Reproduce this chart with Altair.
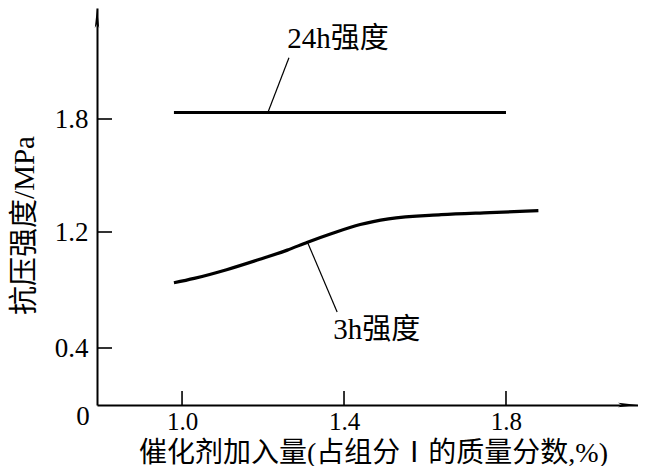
import altair as alt
import pandas as pd

# ---- data ----
x_3h = [0.98, 1.03, 1.11, 1.19, 1.26, 1.31, 1.37, 1.44, 1.51, 1.64, 1.76, 1.88]
y_3h = [0.85, 0.88, 0.94, 1.01, 1.075, 1.13, 1.19, 1.24, 1.27, 1.292, 1.303, 1.313]
x_24h = [0.98, 1.80]
y_24h = [1.835, 1.835]

x_ticks = [1.0, 1.4, 1.8]
y_ticks = [0.4, 1.2, 1.8]
x_title = "催化剂加入量(占组分Ⅰ的质量分数,%)"
y_title = "抗压强度/MPa"

label_text = ["24h强度", "3h强度"]
label_x = [1.385, 1.481]
label_y = [2.227, 0.524]
leader_id = ["24h", "24h", "3h", "3h"]
leader_x = [1.212, 1.264, 1.309, 1.383]
leader_y = [1.835, 2.126, 1.135, 0.648]

X_DOMAIN = [0.79, 2.126]
Y_DOMAIN = [0, 0.4, 1.2, 1.8, 2.39]
Y_RANGE = [397, 340, 224, 111, 0]

SERIF = "Liberation Serif, Noto Sans CJK SC"

xs = alt.Scale(domain=X_DOMAIN, nice=False, zero=False)
ys = alt.Scale(domain=Y_DOMAIN, range=Y_RANGE, nice=False, zero=False)

df3 = pd.DataFrame({"x": x_3h, "y": y_3h})
df24 = pd.DataFrame({"x": x_24h, "y": y_24h})
dfl = pd.DataFrame({"x": label_x, "y": label_y, "t": label_text})
dfld = pd.DataFrame({"id": leader_id, "x": leader_x, "y": leader_y})
dfxt = pd.DataFrame({"x": x_ticks})
dfyt = pd.DataFrame({"y": y_ticks})
dforig = pd.DataFrame({"x": [X_DOMAIN[0]], "y": [0], "t": ["0"]})
dfup = pd.DataFrame({"x": [X_DOMAIN[0]], "y": [Y_DOMAIN[-1]]})
dfright = pd.DataFrame({"x": [X_DOMAIN[1]], "y": [0]})

axis_style = dict(
    ticks=False, grid=False,
    labelFont=SERIF, labelColor="black",
    titleFont=SERIF, titleFontWeight="normal", titleColor="black",
    domainColor="black", domainWidth=2,
)
xaxis = alt.Axis(values=x_ticks, format=".1f", title=x_title,
                 labelFontSize=25, labelPadding=4, titleFontSize=28,
                 titleX=276, titleY=56, titleBaseline="alphabetic",
                 titleAlign="center", **axis_style)
yaxis = alt.Axis(values=y_ticks, format=".1f", title=y_title,
                 labelFontSize=27, labelPadding=9, titleFontSize=29,
                 titleX=-73, titleY=217, titleAngle=-90,
                 titleAlign="center", titleBaseline="middle", **axis_style)

base_x = alt.X("x:Q", scale=xs, axis=xaxis)
base_y = alt.Y("y:Q", scale=ys, axis=yaxis)

line3 = alt.Chart(df3).mark_line(color="black", strokeWidth=3.2, interpolate="monotone").encode(
    x=base_x, y=base_y)
line24 = alt.Chart(df24).mark_line(color="black", strokeWidth=3).encode(
    x=alt.X("x:Q", scale=xs), y=alt.Y("y:Q", scale=ys))
leaders = alt.Chart(dfld).mark_line(color="black", strokeWidth=1.2).encode(
    x=alt.X("x:Q", scale=xs), y=alt.Y("y:Q", scale=ys), detail="id:N")
labels = alt.Chart(dfl).mark_text(font=SERIF, fontSize=29, color="black",
                                  align="center", baseline="middle").encode(
    x=alt.X("x:Q", scale=xs), y=alt.Y("y:Q", scale=ys), text="t:N")
xticks = alt.Chart(dfxt).mark_rule(color="black", strokeWidth=1.6).encode(
    x=alt.X("x:Q", scale=xs), y=alt.value(397), y2=alt.value(383))
yticks = alt.Chart(dfyt).mark_rule(color="black", strokeWidth=1.6).encode(
    y=alt.Y("y:Q", scale=ys), x=alt.value(0), x2=alt.value(15))
origin = alt.Chart(dforig).mark_text(font=SERIF, fontSize=27, color="black",
                                     align="center", baseline="middle", dx=-14, dy=12).encode(
    x=alt.X("x:Q", scale=xs), y=alt.Y("y:Q", scale=ys), text="t:N")
up = alt.Chart(dfup).mark_point(shape="M0,0 L0.22,2 L0,1.6 L-0.22,2 Z", size=400,
                                filled=True, color="black", opacity=1).encode(
    x=alt.X("x:Q", scale=xs), y=alt.Y("y:Q", scale=ys))
right = alt.Chart(dfright).mark_point(shape="M0,0 L-2,-0.22 L-1.6,0 L-2,0.22 Z", size=400,
                                      filled=True, color="black", opacity=1).encode(
    x=alt.X("x:Q", scale=xs), y=alt.Y("y:Q", scale=ys))

chart = alt.layer(line3, line24, leaders, labels, xticks, yticks, origin, up, right).properties(
    width=541, height=397,
    autosize=alt.AutoSizeParams(type="none"),
    padding={"left": 89, "top": 0, "right": 0, "bottom": 61},
).configure(background="white").configure_view(stroke=None)

chart.save("out.html", embed_options={"renderer": "svg", "actions": False})
